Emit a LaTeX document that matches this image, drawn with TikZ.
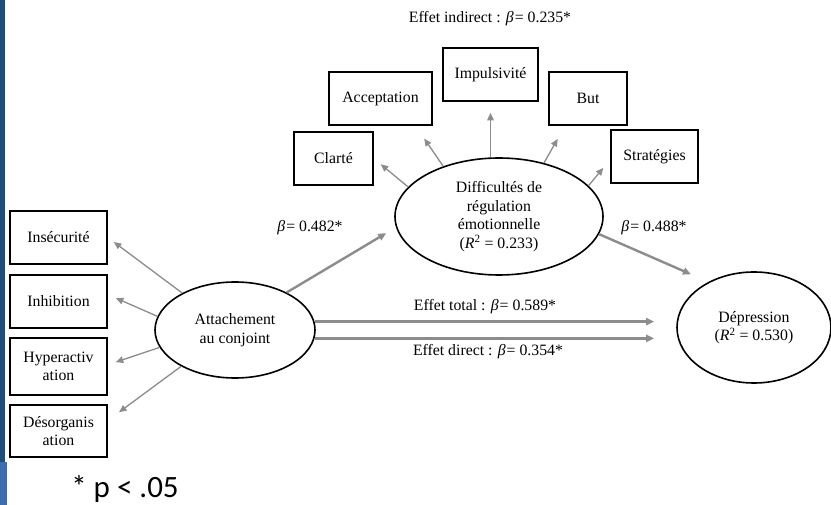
\documentclass[tikz,border=0pt]{standalone}
\usepackage{fontspec}
\setmainfont{Liberation Serif}
\newfontfamily\notefont{Carlito}
\usetikzlibrary{arrows.meta,shapes.geometric,calc}
\definecolor{arrgray}{HTML}{8C8C8C}
\definecolor{bardark}{HTML}{1F4E79}
\definecolor{barlight}{HTML}{3C6EAF}
\begin{document}
\begin{tikzpicture}[x=1pt,y=-1pt,
  font=\fontsize{15.8}{18.5}\selectfont,
  box/.style={draw=black,line width=1.6pt,inner sep=0pt,align=center,fill=white},
  lat/.style={ellipse,draw=black,line width=1.6pt,inner sep=0pt,align=center,fill=white},
  arr/.style={draw=arrgray,line width=1.3pt,-{Triangle[length=7.5pt,width=6.5pt]},arrgray},
  tarr/.style={draw=arrgray,line width=2.4pt,-{Triangle[length=8pt,width=7pt]},arrgray},
  lbl/.style={inner sep=0pt,align=center}]
\useasboundingbox (0,0) rectangle (831,505);
\fill[white] (0,0) rectangle (831,505);
\fill[bardark] (0,0) rectangle (5,462);
\fill[barlight] (0,462) rectangle (7,505);

% boxes
\node[box,minimum width=97pt,minimum height=53pt] (insec) at (58.5,237.5) {Insécurité};
\node[box,minimum width=97pt,minimum height=53pt] (inhib) at (58.5,301.5) {Inhibition};
\node[box,minimum width=97pt,minimum height=57pt] (hyper) at (58.5,366.5) {Hyperactiv\\ation};
\node[box,minimum width=97pt,minimum height=52pt] (desorg) at (58.5,431) {Désorganis\\ation};
\node[box,minimum width=79pt,minimum height=53pt] (clarte) at (333.5,158.5) {Clarté};
\node[box,minimum width=103pt,minimum height=53pt] (accept) at (380.5,98.5) {Acceptation};
\node[box,minimum width=95pt,minimum height=53pt] (impuls) at (490.5,74.5) {Impulsivité};
\node[box,minimum width=78pt,minimum height=53pt] (but) at (588,98.5) {But};
\node[box,minimum width=87pt,minimum height=53pt] (strat) at (654.5,156.5) {Stratégies};

% latent variables
\node[lat,minimum width=160pt,minimum height=96pt] (attach) at (235,330) {Attachement\\au conjoint};
\node[lat,minimum width=208pt,minimum height=117pt] (diff) at (499,216.5) {Difficultés de\\régulation\\émotionnelle\\(\textit{R}\textsuperscript{2} = 0.233)};
\node[lat,minimum width=154pt,minimum height=111pt] (dep) at (754,327.5) {Dépression\\(\textit{R}\textsuperscript{2} = 0.530)};

% indicator arrows
\draw[arr,shorten >=7.5pt] (attach.145) -- (insec.east);
\draw[arr,shorten >=8.8pt] (attach.170) -- (inhib.8);
\draw[arr,shorten >=8.4pt] (attach.193) -- (hyper.2);
\draw[arr,shorten >=14pt] (attach.214) -- (desorg.12);

\draw[arr,shorten >=9pt] (diff.162) -- (clarte.east);
\draw[arr,shorten >=15.5pt] (diff.138) -- (accept.-38);
\draw[arr,shorten >=11pt] (impuls.south |- diff.north) -- (impuls.south);
\draw[arr,shorten >=15pt] (diff.50) -- (but.-130);
\draw[arr,shorten >=10.8pt] (diff.19) -- (strat.184);

% structural paths
\draw[tarr,shorten >=11.3pt] (attach.36) -- (diff.186);
\draw[tarr,shorten >=19pt] (diff.-10) -- (dep.135);
\draw[tarr,shorten >=22pt] (attach.6) -- (attach.6 -| dep.west);
\draw[tarr,shorten >=22pt] (attach.354) -- (attach.354 -| dep.west);

% labels
\node[lbl] (lind) at (490,18.3) {Effet indirect : \textit{β}\kern1pt= 0.235*};
\node[lbl] (la) at (310,228) {\textit{β}\kern1pt= 0.482*};
\node[lbl] (lb) at (654,228) {\textit{β}\kern1pt= 0.488*};
\node[lbl] (ltot) at (485,306.7) {Effet total : \textit{β}\kern1pt= 0.589*};
\node[lbl] (ldir) at (488,351.7) {Effet direct : \textit{β}\kern1pt= 0.354*};
\node[lbl] (note) at (125,489) {\notefont\fontsize{31}{36}\selectfont * p < .05};
\end{tikzpicture}
\end{document}
